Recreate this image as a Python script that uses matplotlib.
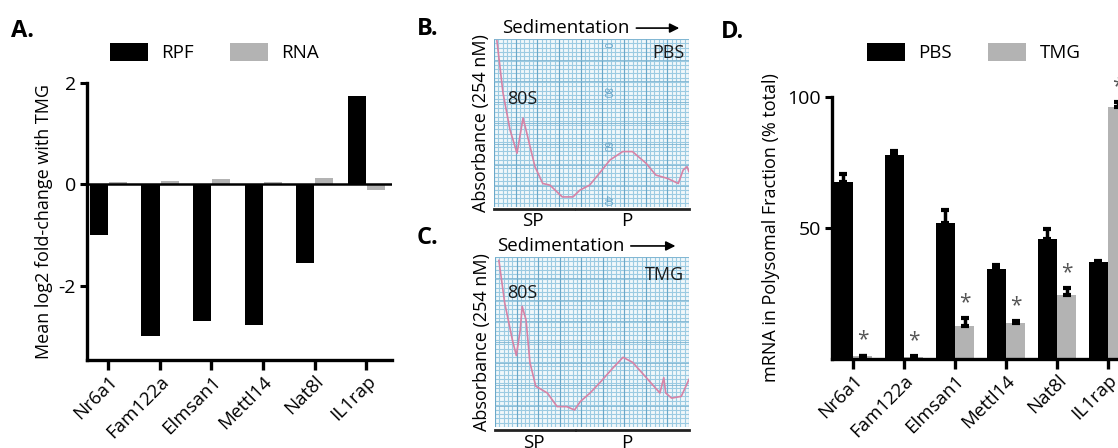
import numpy as np
import matplotlib.pyplot as plt

plt.rcParams['font.family'] = ['Open Sans', 'DejaVu Sans']

W, H = 1118, 448

# --- Panel A data ---
genes = ["Nr6a1", "Fam122a", "Elmsan1", "Mettl14", "Nat8l", "IL1rap"]
rpf = [-1.0, -3.0, -2.7, -2.78, -1.56, 1.74]
rna = [0.04, 0.07, 0.1, 0.04, 0.12, -0.12]

# --- Panel B / C traces (fraction of chart width / height) ---
pbs_x = [0.015, 0.046, 0.082, 0.118, 0.149, 0.164, 0.21, 0.25, 0.287, 0.35, 0.405,
         0.44, 0.49, 0.54, 0.595, 0.66, 0.71, 0.78, 0.83, 0.89, 0.945, 0.97, 0.99, 1.0]
pbs_y = [0.99, 0.68, 0.46, 0.32, 0.53, 0.46, 0.24, 0.14, 0.13, 0.06, 0.06,
         0.10, 0.13, 0.20, 0.28, 0.33, 0.33, 0.26, 0.19, 0.17, 0.14, 0.22, 0.24, 0.21]
tmg_x = [0.02, 0.05, 0.09, 0.11, 0.13, 0.14, 0.16, 0.18, 0.21, 0.27, 0.32, 0.37, 0.41,
         0.44, 0.49, 0.54, 0.61, 0.66, 0.71, 0.78, 0.85, 0.87, 0.88, 0.91, 0.96, 1.0]
tmg_y = [0.98, 0.73, 0.51, 0.42, 0.57, 0.71, 0.63, 0.38, 0.24, 0.20, 0.12, 0.12, 0.10,
         0.15, 0.20, 0.26, 0.35, 0.41, 0.38, 0.29, 0.20, 0.29, 0.20, 0.17, 0.18, 0.28]
paper_marks = ["0", "80", "60", "40"]
paper_mark_y = [0.964, 0.68, 0.357, 0.04]

# --- Panel D data ---
pbs = [67.5, 78.0, 52.0, 34.5, 45.7, 37.0]
pbs_err = [3.0, 1.5, 5.0, 1.5, 4.0, 0.5]
tmg = [1.0, 0.8, 12.5, 13.6, 24.5, 96.0]
tmg_err = [0.3, 0.2, 3.0, 0.8, 2.5, 2.0]

BLACK = "#000000"
GRAY = "#b3b3b3"


def box(l, t, r, b):
    return [l / W, 1 - b / H, (r - l) / W, (b - t) / H]


fig = plt.figure(figsize=(W / 100, H / 100), dpi=100)


def style_bar_axes(ax):
    for s in ["top", "right"]:
        ax.spines[s].set_visible(False)
    for s in ["left", "bottom"]:
        ax.spines[s].set_linewidth(2.4)
    ax.tick_params(axis="y", width=2.2, length=5, labelsize=14, pad=3)
    ax.tick_params(axis="x", width=2.4, length=7, labelsize=13.5, pad=2)
    ax.set_xticks(range(len(genes)))
    ax.set_xticklabels(genes, rotation=45, ha="right", rotation_mode="anchor")


def legend(ax, x0):
    fig.legend(*ax.get_legend_handles_labels(), loc="center left",
               bbox_to_anchor=(x0 / W, 1 - 52.5 / H), ncol=2, frameon=False,
               fontsize=13.5, handlelength=2.05, handleheight=1.12,
               handletextpad=0.7, columnspacing=1.9, borderpad=0, borderaxespad=0)


# ============ A ============
axA = fig.add_axes(box(87, 83, 392, 360))
x = np.arange(len(genes))
axA.bar(x - 0.18, rpf, 0.35, color=BLACK, label="RPF")
axA.bar(x + 0.19, rna, 0.35, color=GRAY, label="RNA")
axA.axhline(0, color=BLACK, lw=1.8)
axA.set_xlim(-0.41, 5.5)
axA.set_ylim(-3.47, 2)
axA.set_yticks([2, 0, -2])
axA.set_yticklabels(["2", "0", "-2"])
style_bar_axes(axA)
axA.set_ylabel("Mean log2 fold-change with TMG", fontsize=13, labelpad=4)
legend(axA, 110)
fig.text(11 / W, 1 - 31 / H, "A.", fontsize=17, fontweight="bold", va="center")


# ============ B / C ============
def paper(ax, tx, ty, tag, label_pos, tag_y, sed_x, arr, base_y, lab_y):
    ax.set_facecolor("#f1f8fb")
    ax.set_xlim(0, 1)
    ax.set_ylim(0, 1)
    for v in np.linspace(0, 1, 46):
        ax.axvline(v, color="#9ccbe2", lw=0.8, zorder=0)
    for v in np.linspace(0, 1, 40):
        ax.axhline(v, color="#9ccbe2", lw=0.8, zorder=0)
    for v in np.linspace(0, 1, 10):
        ax.axvline(v, color="#6aa8c9", lw=0.8, zorder=0)
    for v in np.linspace(0, 1, 9):
        ax.axhline(v, color="#7db4d1", lw=0.6, zorder=0)
    ax.plot(tx, ty, color="#d783a6", lw=1.2, zorder=3)
    ax.set_xticks([])
    ax.set_yticks([])
    for s in ax.spines.values():
        s.set_visible(False)
    ax.text(label_pos[0], label_pos[1], "80S", transform=ax.transAxes,
            fontsize=13, va="center", ha="left", color="#1a1a1a", zorder=4)
    ax.text(0.975, tag_y, tag, transform=ax.transAxes, fontsize=13,
            va="center", ha="right", color="#1a1a1a", zorder=4)
    ax.text(sed_x, 1.065, "Sedimentation", transform=ax.transAxes,
            fontsize=13.5, va="center", ha="left")
    ax.annotate("", xy=(arr[1], 1.065), xytext=(arr[0], 1.065),
                xycoords="axes fraction",
                arrowprops=dict(arrowstyle="-|>", color=BLACK, lw=1.2,
                                mutation_scale=14, shrinkA=0, shrinkB=0))
    ax.plot([0, 0.41], [base_y, base_y], transform=ax.transAxes, clip_on=False,
            color="#222222", lw=2)
    ax.plot([0.42, 1.0], [base_y, base_y], transform=ax.transAxes, clip_on=False,
            color="#222222", lw=2)
    ax.text(0.2, lab_y, "SP", transform=ax.transAxes, fontsize=13.5,
            ha="center", va="center")
    ax.text(0.68, lab_y, "P", transform=ax.transAxes, fontsize=13.5,
            ha="center", va="center")
    ax.set_ylabel("Absorbance (254 nM)", fontsize=13, labelpad=3)


axB = fig.add_axes(box(494, 39, 689, 207))
paper(axB, pbs_x, pbs_y, "PBS", (0.067, 0.64), 0.917, 0.04, (0.73, 0.95), -0.012, -0.085)
for m, yy in zip(paper_marks, paper_mark_y):
    axB.text(0.574, yy, m, transform=axB.transAxes, fontsize=7, rotation=270,
             color="#5f9fc4", ha="center", va="center", zorder=2)
fig.text(417 / W, 1 - 29 / H, "B.", fontsize=17, fontweight="bold", va="center")

axC = fig.add_axes(box(495, 257, 689, 427))
paper(axC, tmg_x, tmg_y, "TMG", (0.06, 0.79), 0.894, 0.01, (0.70, 0.93), -0.018, -0.094)
fig.text(417 / W, 1 - 238 / H, "C.", fontsize=17, fontweight="bold", va="center")

# ============ D ============
axD = fig.add_axes(box(832, 97, 1133.5, 359))
axD.bar(x - 0.19, pbs, 0.38, color=BLACK, label="PBS")
axD.bar(x + 0.19, tmg, 0.38, color=GRAY, label="TMG")
axD.errorbar(x - 0.19, pbs, yerr=[np.zeros(len(pbs)), pbs_err], fmt="none",
             ecolor=BLACK, elinewidth=2.5, capsize=3, capthick=3)
axD.errorbar(x + 0.19, tmg, yerr=[np.zeros(len(tmg)), tmg_err], fmt="none",
             ecolor=BLACK, elinewidth=2.5, capsize=3, capthick=3)
for xi, v, e in zip(x, tmg, tmg_err):
    axD.text(xi + 0.19, v + e + 6.0, "*", fontsize=15, color="#555555",
             ha="center", va="center")
axD.set_xlim(-0.41, 5.5)
axD.set_ylim(0, 100)
axD.set_yticks([50, 100])
style_bar_axes(axD)
axD.set_ylabel("mRNA in Polysomal Fraction (% total)", fontsize=13, labelpad=5)
legend(axD, 867)
fig.text(721 / W, 1 - 32 / H, "D.", fontsize=17, fontweight="bold", va="center")

fig.savefig("out.png", dpi=100)
